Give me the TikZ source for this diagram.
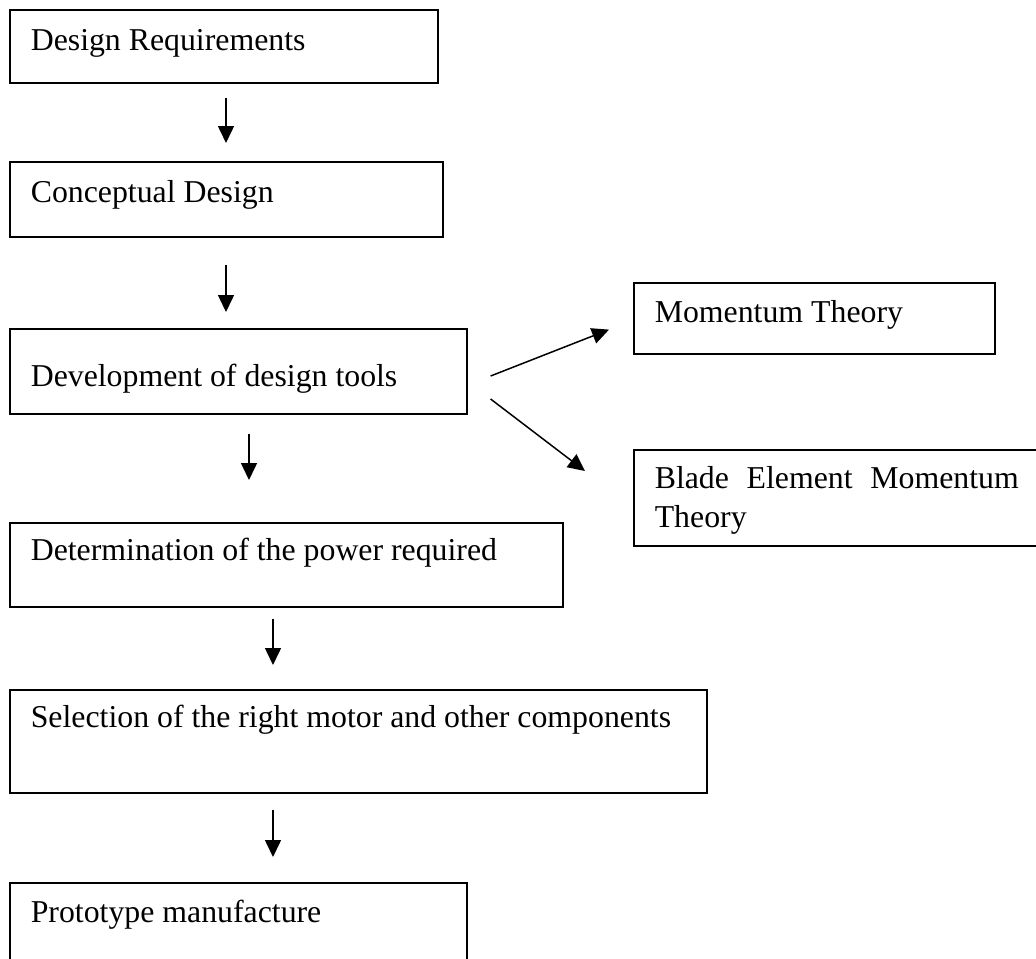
\documentclass[tikz,border=0pt]{standalone}
\usepackage{fontspec}
\setmainfont{Liberation Serif}
\usetikzlibrary{arrows.meta,calc}

\begin{document}
\begin{tikzpicture}[x=0.5pt, y=-0.5pt, font=\fontsize{15.9pt}{19.5pt}\selectfont]

\tikzset{
  box/.style  = {draw, line width=0.8pt, anchor=north west, align=flush left, inner xsep=10.5pt, inner ysep=0pt},
  flow/.style = {-{Triangle[length=8.5pt, width=8pt]}, line width=0.75pt},
}

\useasboundingbox (0,0) rectangle (1036,958);

%% ---------- the main chain, left ----------
\node[box, text width=193pt,   text height=20.5pt, text depth=16pt]   (req)     at (9,9)   {Design Requirements};
\node[box, text width=195.5pt, text height=20.5pt, text depth=17pt]   (concept) at (9,161) {Conceptual Design};
\node[box, text width=207.5pt, text height=29pt,   text depth=13.5pt] (tools)   at (9,328) {Development of design tools};
\node[box, text width=255.5pt, text height=19pt,   text depth=23pt]   (power)   at (9,522) {Determination of the power required};
\node[box, text width=327.5pt, text height=19pt,   text depth=32.5pt] (select)  at (9,689) {Selection of the right motor and other components};
\node[box, text width=207.5pt, text height=20pt,   text depth=27pt]   (proto)   at (9,882) {Prototype manufacture};

%% ---------- the two theories, right ----------
\node[box, text width=159.5pt, text height=20pt,   text depth=15.5pt] (mom)     at (633,282) {Momentum Theory};
\node[box, align=justify, text width=182pt, text height=19.5pt, text depth=28.5pt] (bem) at (633,449)
  {Blade Element Momentum Theory};

%% ---------- the arrows ----------
\draw[flow] ($(req.south west)+(217,14)$)     -- ($(concept.north west)+(217,-18)$);
\draw[flow] ($(concept.south west)+(217,27)$) -- ($(tools.north west)+(217,-16)$);
\draw[flow] ($(tools.south west)+(240,19)$)   -- ($(power.north west)+(240,-42)$);
\draw[flow] ($(power.south west)+(264,11)$)   -- ($(select.north west)+(264,-24)$);
\draw[flow] ($(select.south west)+(264,16)$)  -- ($(proto.north west)+(264,-25)$);

\draw[flow] ($(tools.north east)+(23,48)$) -- ($(mom.south west)+(-24,-25)$);
\draw[flow] ($(tools.north east)+(23,71)$) -- ($(bem.north west)+(-48,22)$);

\end{tikzpicture}
\end{document}
